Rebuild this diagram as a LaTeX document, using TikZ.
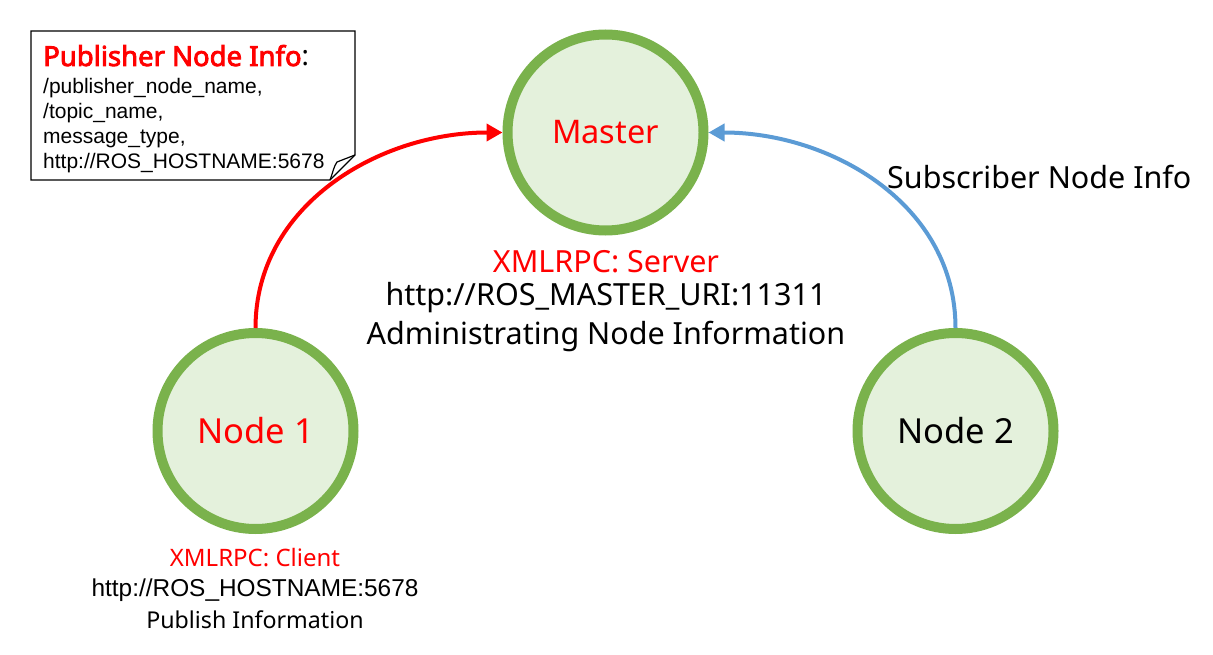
\documentclass[tikz,border=0pt]{standalone}
\usepackage{fontspec}
\setmainfont{Noto Sans}
\newfontfamily\titlefont{Noto Sans}[FakeBold=3]
\newfontfamily\arialfont{Liberation Sans}
\usetikzlibrary{arrows.meta}
\definecolor{ringgreen}{RGB}{122,178,76}
\definecolor{fillgreen}{RGB}{228,241,220}
\definecolor{linkblue}{RGB}{91,155,213}
\definecolor{hotred}{RGB}{255,0,0}
\begin{document}
\begin{tikzpicture}[x=1pt,y=-1pt,
  rosnode/.style={circle, draw=ringgreen, fill=fillgreen, line width=10pt,
    minimum size=196pt, inner sep=0pt, font=\fontsize{34.5}{40}\selectfont},
  lbl/.style={inner sep=0pt, font=\fontsize{30.5}{36}\selectfont},
  smalllbl/.style={inner sep=0pt, font=\fontsize{24}{28}\selectfont},
  arialtxt/.style={inner sep=0pt, font=\arialfont\fontsize{21}{25}\selectfont},
  pubarrow/.style={hotred, line width=4pt, -{Triangle[length=16pt,width=17pt]}},
  subarrow/.style={linkblue, line width=4pt, -{Triangle[length=16pt,width=17pt]}},
  notebox/.style={draw=black, line width=1.2pt, fill=white, line join=miter}
]
\useasboundingbox (0,0) rectangle (1213,655);

% nodes
\node[rosnode, text=hotred, font=\fontsize{32.5}{38}\selectfont] (master) at (605.5,132.5) {Master};
\node[rosnode, text=hotred] (n1) at (255.5,431) {Node 1};
\node[rosnode, text=black] (n2) at (955.5,431) {Node 2};

% master labels
\node[lbl, text=hotred] (mxml) at (606,262) {XMLRPC: Server};
\node[lbl] (muri) at (606,298) {http://ROS\_MASTER\_URI:11311};
\node[lbl] (madm) at (606,336) {Administrating Node Information};

% node 1 labels
\node[smalllbl, text=hotred] (cxml) at (255,558) {XMLRPC: Client};
\node[arialtxt, font=\arialfont\fontsize{24.4}{28}\selectfont] (curi) at (255,590) {http://ROS\_HOSTNAME:5678};
\node[smalllbl, font=\fontsize{23.2}{28}\selectfont] (cpub) at (255,620) {Publish Information};

% subscriber info
\node[lbl, anchor=west] (subinfo) at (887,177) {Subscriber Node Info};

% note box with folded corner
\draw[notebox] (31,31) -- (355,31) -- (355,155) -- (330,180) -- (31,180) -- cycle;
\draw[line width=1.2pt, line join=round] (330,180) .. controls (333,172) and (334,166) .. (337,162) -- (355,155);
\node[inner sep=0pt, anchor=base west, font=\fontsize{27.5}{32}\selectfont] (ptitle) at (43,66)
  {\textcolor{hotred}{\titlefont Publisher Node Info}:};
\node[arialtxt, anchor=north west, align=left] (pbody) at (43,78)
  {/publisher\_node\_name,\\/topic\_name,\\message\_type,\\http://ROS\_HOSTNAME:5678};

% connectors
\draw[pubarrow] (n1.north) to[out=90,in=180] (master.west);
\draw[subarrow] (n2.north) to[out=90,in=0] (master.east);
\end{tikzpicture}
\end{document}
